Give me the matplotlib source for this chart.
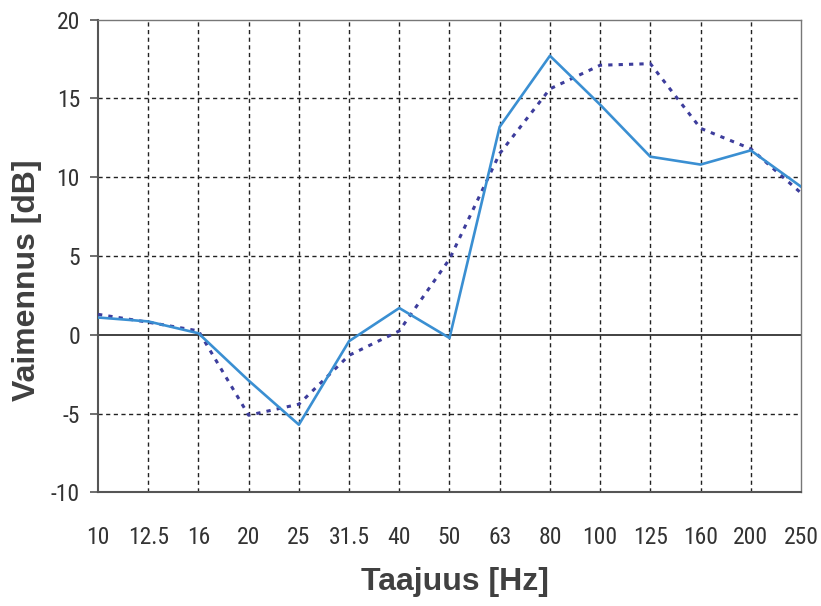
import matplotlib
matplotlib.use("Agg")
from matplotlib import pyplot as plt
from matplotlib import font_manager

freqs = ["10", "12.5", "16", "20", "25", "31.5", "40", "50", "63", "80",
         "100", "125", "160", "200", "250"]
solid_db = [1.1, 0.85, 0.1, -2.9, -5.7, -0.4, 1.7, -0.2, 13.2, 17.7,
            14.6, 11.3, 10.8, 11.7, 9.4]
dotted_db = [1.3, 0.8, 0.25, -5.1, -4.4, -1.3, 0.25, 4.8, 11.5, 15.6,
             17.1, 17.2, 13.1, 11.8, 9.0]
y_ticks = [-10, -5, 0, 5, 10, 15, 20]

# narrowest font available for the tick numbers
names = {f.name for f in font_manager.fontManager.ttflist}
tick_font, tick_size = ["Roboto", "DejaVu Sans"], 15.5
for cand, size in [("Liberation Sans Narrow", 17), ("Roboto Condensed", 17),
                   ("DejaVu Sans Condensed", 14)]:
    if cand in names:
        tick_font, tick_size = [cand, "DejaVu Sans"], size
        break

fig = plt.figure(figsize=(8.21, 6.06), dpi=100)
ax = fig.add_axes([0.1194, 0.1873, 0.8562, 0.7805])

x = list(range(len(freqs)))

# grid
for xi in x[1:-1]:
    ax.axvline(xi, color="#222222", lw=1.0, ls=(0, (3, 2.5)), zorder=1)
for yv in [-5, 5, 10, 15]:
    ax.axhline(yv, color="#222222", lw=1.0, ls=(0, (3, 2.5)), zorder=1)
ax.axhline(0, color="#333333", lw=1.3, zorder=1)

ax.plot(x, dotted_db, color="#3d3d9c", lw=2.2, ls=(0, (1.4, 2.0)), zorder=3)
ax.plot(x, solid_db, color="#3a8fd2", lw=1.9, zorder=4)

ax.set_xlim(0, len(freqs) - 1)
ax.set_ylim(-10, 20)
ax.set_yticks(y_ticks)
ax.set_yticklabels([str(v) for v in y_ticks], family=tick_font,
                   fontsize=tick_size, color="#333333")
ax.set_xticks(x)
ax.set_xticklabels(freqs, family=tick_font, fontsize=tick_size, color="#333333")
ax.tick_params(axis="y", direction="out", length=6, width=1.2, color="#555555", pad=7)
ax.tick_params(axis="x", length=0, pad=24)

for side in ["left", "bottom"]:
    ax.spines[side].set_color("#555555")
    ax.spines[side].set_linewidth(1.5)
for side in ["top", "right"]:
    ax.spines[side].set_color("#777777")
    ax.spines[side].set_linewidth(1.0)

ax.set_xlabel("Taajuus [Hz]", fontsize=23, fontweight="bold", color="#404040",
              family="Liberation Sans")
ax.set_ylabel("Vaimennus [dB]", fontsize=23, fontweight="bold", color="#404040",
              family="Liberation Sans")
ax.xaxis.set_label_coords(0.508, -0.158)
ax.yaxis.set_label_coords(-0.08, 0.449)

fig.savefig("out.png", dpi=100)
